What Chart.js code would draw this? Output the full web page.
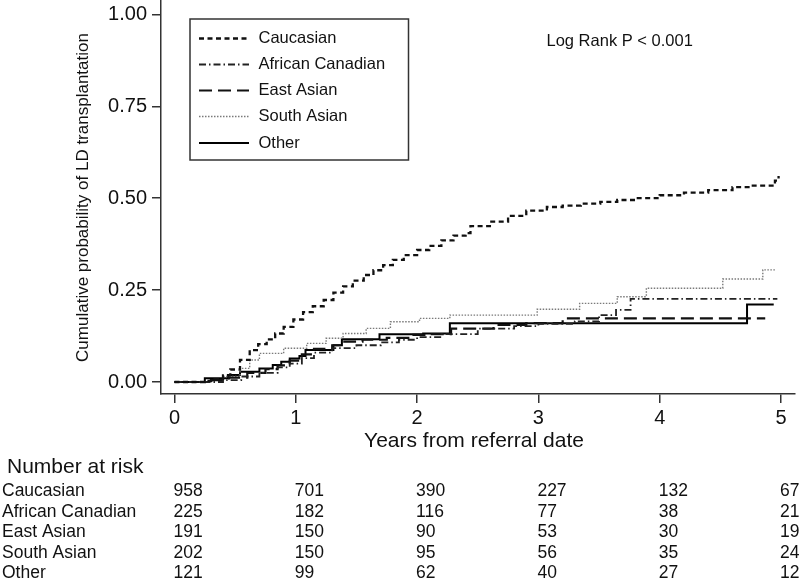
<!DOCTYPE html>
<html>
<head>
<meta charset="utf-8">
<script src="https://cdn.jsdelivr.net/npm/chart.js@4/dist/chart.umd.min.js"></script>
<style>
html,body{margin:0;padding:0;background:#fff;}
#wrap{width:800px;height:579px;position:relative;}
</style>
</head>
<body>
<div id="wrap"><canvas id="c" width="800" height="579"></canvas></div>
<script>
// ---- data ----
const seriesNames = ["Caucasian", "African Canadian", "East Asian", "South Asian", "Other"];

const caucasianT = [0,0.25,0.33,0.40,0.46,0.54,0.62,0.69,0.76,0.83,0.90,0.98,1.06,1.14,1.23,1.31,1.39,1.47,1.56,1.64,1.72,1.80,1.89,2.00,2.10,2.20,2.30,2.40,2.44,2.60,2.75,2.90,3.07,3.20,3.35,3.51,3.65,3.80,4.00,4.20,4.40,4.60,4.75,4.95,4.98];
const caucasianP = [0,0.003,0.008,0.018,0.034,0.060,0.087,0.103,0.116,0.132,0.150,0.170,0.190,0.206,0.223,0.243,0.260,0.276,0.291,0.304,0.318,0.332,0.345,0.359,0.370,0.385,0.398,0.405,0.424,0.436,0.452,0.466,0.476,0.480,0.485,0.490,0.495,0.500,0.508,0.515,0.522,0.530,0.534,0.548,0.560];

const africanT = [0,0.40,0.55,0.70,0.85,0.95,1.05,1.15,1.30,1.50,1.70,1.85,2.00,2.20,2.50,2.80,3.00,3.30,3.50,3.64,3.76,4.97];
const africanP = [0,0.005,0.015,0.025,0.040,0.050,0.065,0.080,0.092,0.100,0.108,0.115,0.122,0.130,0.145,0.152,0.158,0.165,0.182,0.196,0.226,0.226];

const eastT = [0,0.30,0.45,0.60,0.75,0.85,0.95,1.05,1.15,1.30,1.40,1.55,1.75,1.95,2.10,2.28,2.63,2.90,3.20,4.87];
const eastP = [0,0.005,0.012,0.025,0.035,0.045,0.058,0.075,0.090,0.100,0.110,0.115,0.120,0.128,0.130,0.145,0.155,0.160,0.173,0.173];

const southT = [0,0.30,0.40,0.54,0.62,0.70,0.90,1.09,1.25,1.39,1.58,1.78,2.02,2.27,2.99,3.34,3.65,3.89,4.52,4.85,4.96];
const southP = [0,0.006,0.015,0.037,0.060,0.078,0.092,0.105,0.119,0.132,0.146,0.164,0.173,0.182,0.198,0.214,0.232,0.255,0.280,0.305,0.305];

const otherT = [0,0.25,0.44,0.54,0.70,0.81,0.88,0.95,1.03,1.08,1.31,1.38,1.69,2.05,2.27,4.72,4.94];
const otherP = [0,0.010,0.019,0.028,0.037,0.046,0.055,0.064,0.071,0.087,0.100,0.116,0.130,0.132,0.160,0.211,0.211];

const xTickValues = [0,1,2,3,4,5];
const yTickValues = [0,0.25,0.5,0.75,1];

const riskTimes = [0,1,2,3,4,5];
const riskCaucasian = [958,701,390,227,132,67];
const riskAfrican = [225,182,116,77,38,21];
const riskEast = [191,150,90,53,30,19];
const riskSouth = [202,150,95,56,35,24];
const riskOther = [121,99,62,40,27,12];

const xTitle = "Years from referral date";
const yTitle = "Cumulative probability of LD transplantation";
const testText = "Log Rank P < 0.001";
const riskTitle = "Number at risk";

// ---- styles ----
const FONT = "'Liberation Sans', Arial, Helvetica, sans-serif";
const styles = [
  {color:'#111', width:2.3, dash:[5,3.5]},
  {color:'#222', width:1.8, dash:[7,3,1.5,3]},
  {color:'#111', width:2.2, dash:[13,6]},
  {color:'#7a7a7a', width:1.4, dash:[1.5,1.5]},
  {color:'#000', width:2.0, dash:[]}
];
const seriesT = [caucasianT, africanT, eastT, southT, otherT];
const seriesP = [caucasianP, africanP, eastP, southP, otherP];
const riskRows = [riskCaucasian, riskAfrican, riskEast, riskSouth, riskOther];

const datasets = seriesNames.map((n,i)=>({
  label:n,
  data: seriesT[i].map((t,j)=>({x:t, y:seriesP[i][j]})),
  borderColor: styles[i].color,
  borderWidth: styles[i].width,
  borderDash: styles[i].dash,
  stepped: true,
  pointRadius: 0,
  fill: false,
  tension: 0
}));

const extras = {
  id:'extras',
  afterDraw(chart){
    const ctx = chart.ctx;
    const xs = chart.scales.x;
    ctx.save();
    ctx.fillStyle = '#111';
    // y title
    ctx.save();
    ctx.translate(83, 197.5);
    ctx.rotate(-Math.PI/2);
    ctx.font = "17px " + FONT;
    ctx.textAlign = 'center'; ctx.textBaseline = 'middle';
    ctx.fillText(yTitle, 0, 0);
    ctx.restore();
    // x title
    ctx.font = "21px " + FONT;
    ctx.textAlign = 'center'; ctx.textBaseline = 'middle';
    ctx.fillText(xTitle, 474, 441);
    // log rank
    ctx.font = "16.5px " + FONT;
    ctx.textAlign = 'left';
    ctx.fillText(testText, 546.5, 41);
    // legend box
    ctx.strokeStyle = '#333'; ctx.lineWidth = 1.5;
    ctx.strokeRect(190, 19, 218.5, 141);
    const rowsY = [38.5, 64.5, 90.5, 116.5, 143];
    ctx.font = "16.5px " + FONT;
    seriesNames.forEach((n,i)=>{
      ctx.save();
      ctx.strokeStyle = styles[i].color;
      ctx.lineWidth = styles[i].width;
      ctx.setLineDash(styles[i].dash);
      ctx.beginPath(); ctx.moveTo(199, rowsY[i]); ctx.lineTo(249, rowsY[i]); ctx.stroke();
      ctx.restore();
      ctx.fillStyle = '#111';
      ctx.textAlign = 'left'; ctx.textBaseline = 'middle';
      ctx.fillText(n, 258.5, rowsY[i]);
    });
    // risk table
    ctx.font = "21px " + FONT;
    ctx.textAlign = 'left'; ctx.textBaseline = 'middle';
    ctx.fillText(riskTitle, 7, 467);
    const tableY = [491, 512, 532.5, 553, 573.5];
    ctx.font = "17.5px " + FONT;
    seriesNames.forEach((n,i)=>{
      ctx.textAlign = 'left';
      ctx.fillText(n, 2, tableY[i]);
      riskRows[i].forEach((v,j)=>{
        const px = xs.getPixelForValue(riskTimes[j]);
        ctx.fillText(String(v), px - 1, tableY[i]);
      });
    });
    ctx.restore();
  }
};

new Chart(document.getElementById('c'), {
  type:'line',
  data:{datasets},
  options:{
    responsive:false,
    animation:false,
    layout:{padding:{left:0,right:5,top:0,bottom:0}},
    plugins:{legend:{display:false}, tooltip:{enabled:false}},
    scales:{
      x:{
        type:'linear',
        min:-0.1113, max:5.1154,
        afterBuildTicks(s){ s.ticks = xTickValues.map(v=>({value:v})); },
        afterFit(s){ s.height = 185; s.paddingLeft = 0; s.paddingRight = 0; },
        grid:{drawOnChartArea:false, drawTicks:true, tickLength:9, color:'#333', lineWidth:1.5},
        border:{display:true, color:'#333', width:1.5},
        ticks:{color:'#111', padding:3, maxRotation:0, font:{family:FONT, size:20}, callback:v=>String(v)}
      },
      y:{
        type:'linear',
        min:-0.0326, max:1.039,
        afterBuildTicks(s){ s.ticks = yTickValues.map(v=>({value:v})); },
        afterFit(s){ s.width = 161; s.paddingTop = 0; s.paddingBottom = 0; },
        grid:{drawOnChartArea:false, drawTicks:true, tickLength:9, color:'#333', lineWidth:1.5},
        border:{display:true, color:'#333', width:1.5},
        ticks:{color:'#111', padding:5, font:{family:FONT, size:20}, callback:v=>Number(v).toFixed(2)}
      }
    }
  },
  plugins:[extras]
});
</script>
</body>
</html>
